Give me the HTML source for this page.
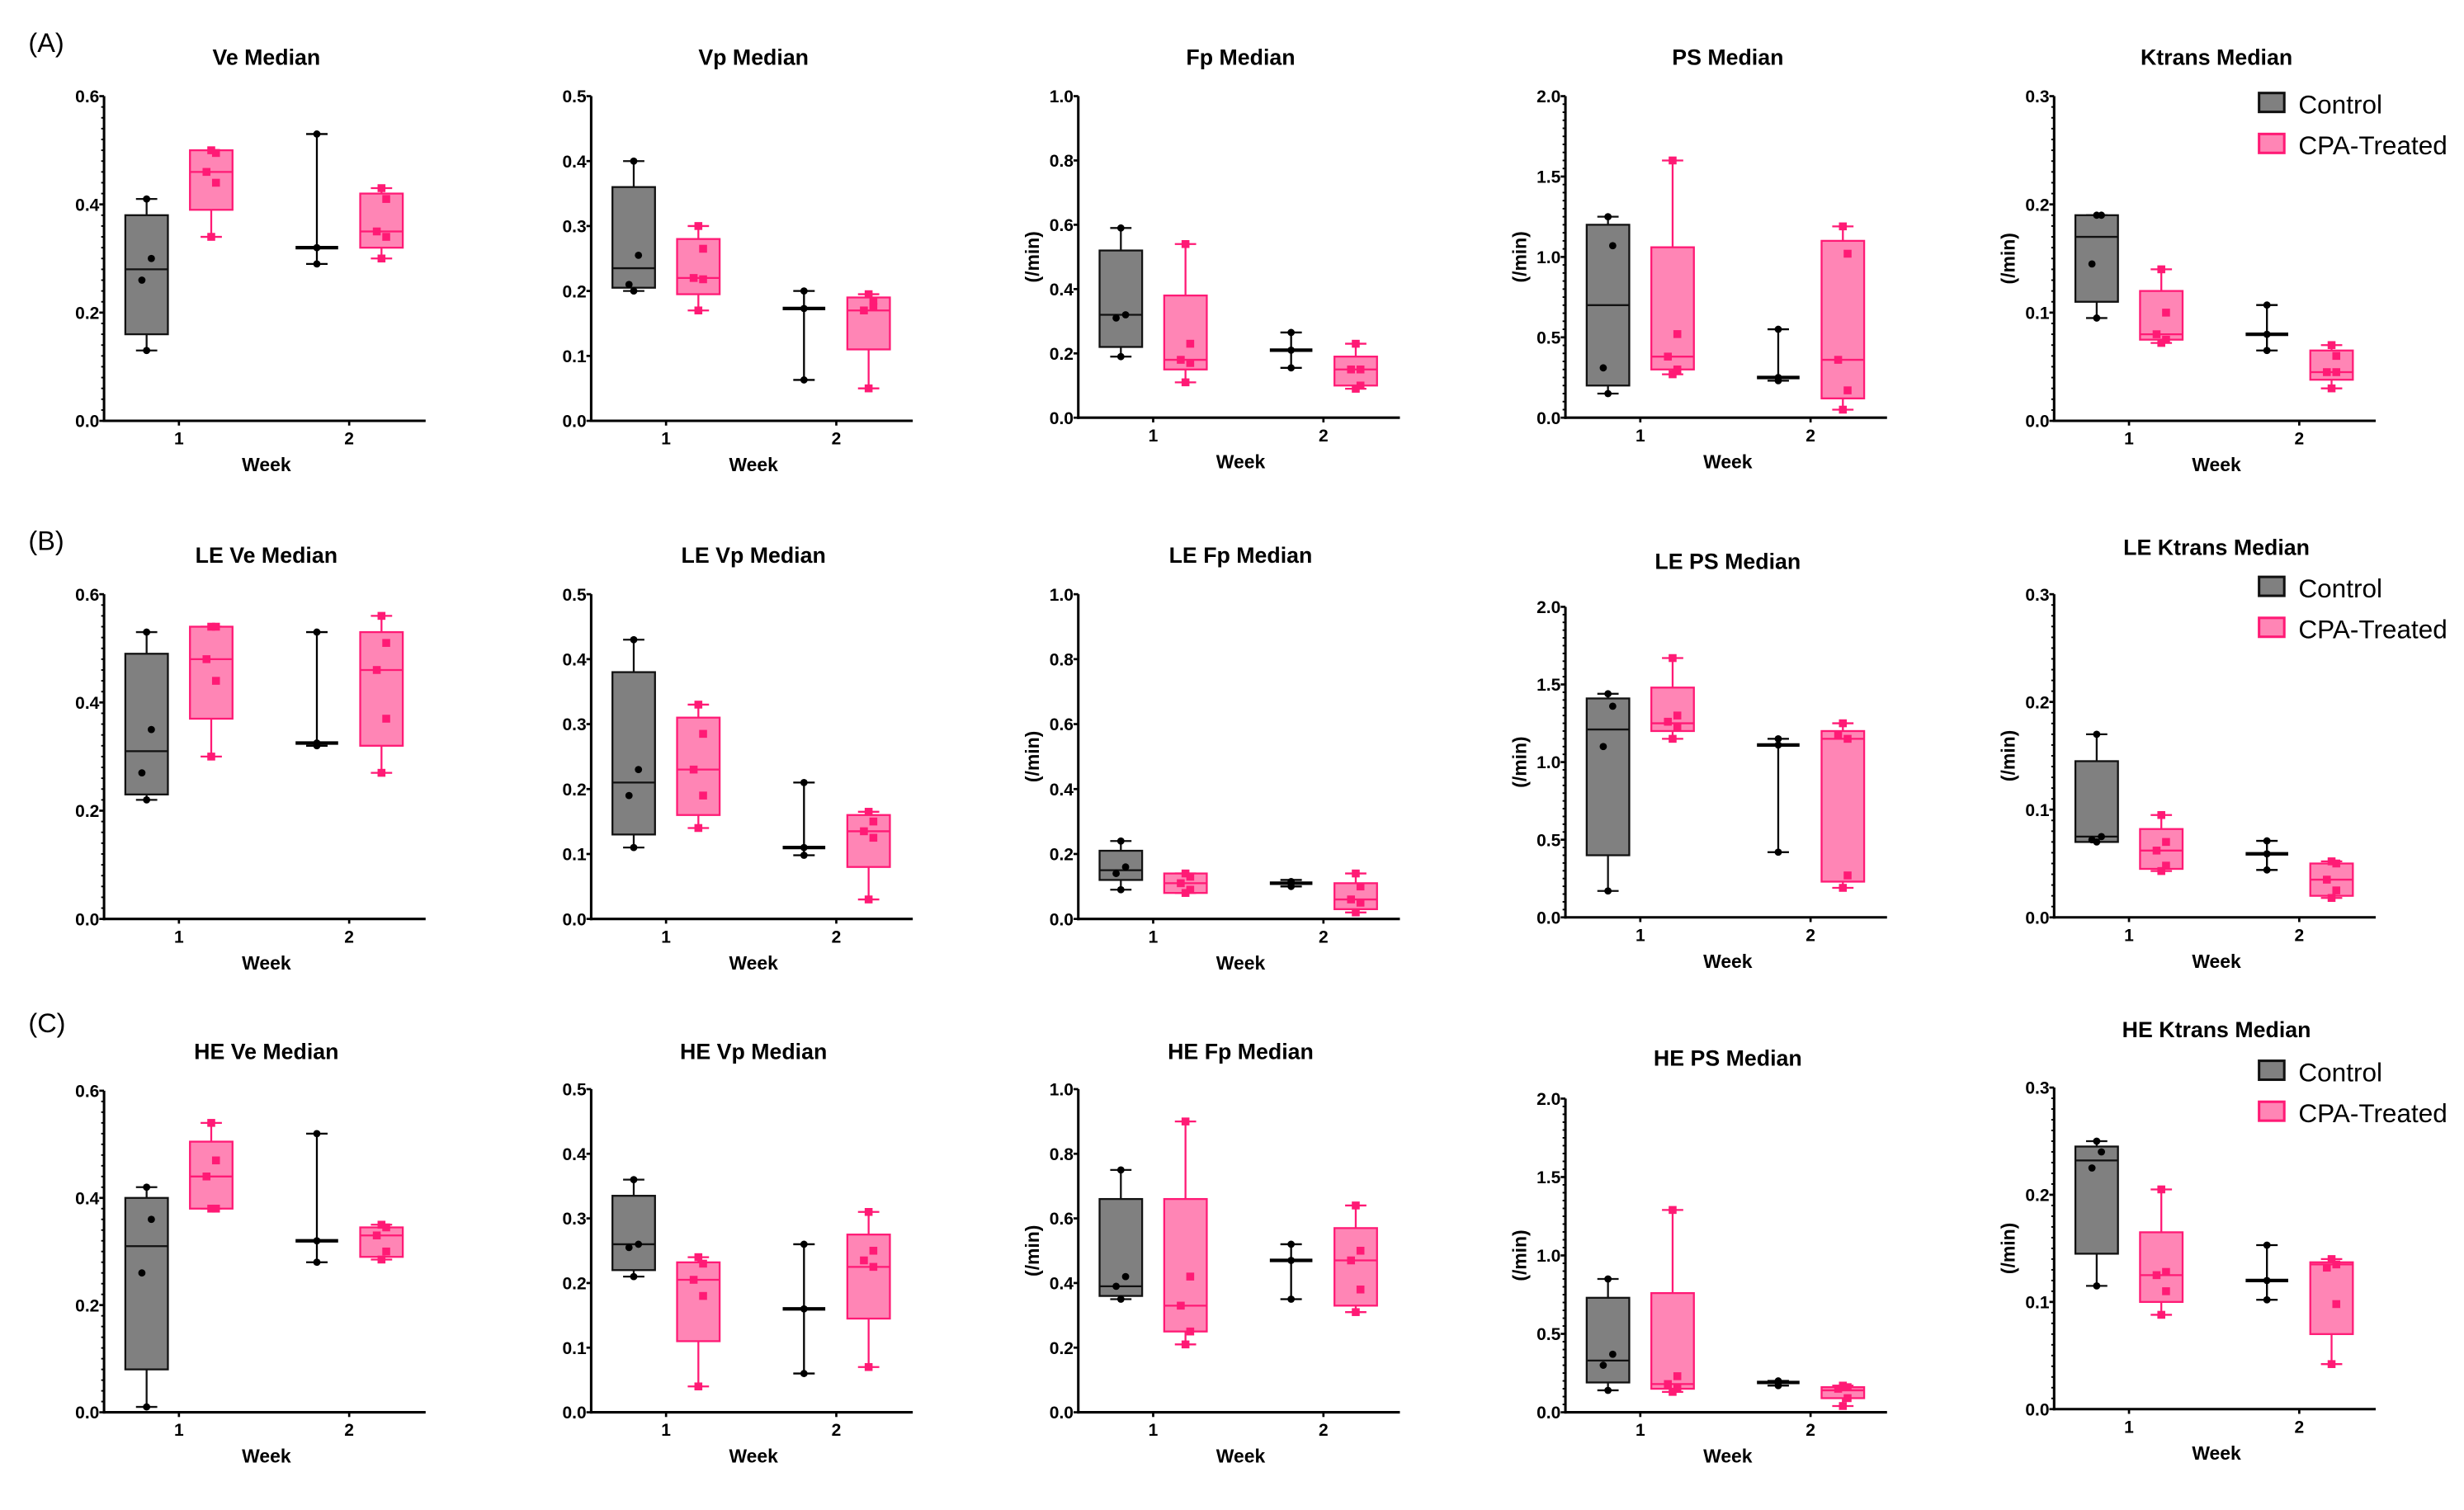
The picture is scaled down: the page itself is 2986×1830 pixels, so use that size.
<!DOCTYPE html>
<html><head><meta charset="utf-8">
<style>
html,body{margin:0;padding:0;background:#fff;}
svg{display:block;}
text{font-family:"Liberation Sans",Arial,sans-serif;}
</style></head>
<body>
<svg id="fig" width="2986" height="1830" viewBox="0 0 1563 958" preserveAspectRatio="none" xmlns="http://www.w3.org/2000/svg"></svg>
<script>
// ---- data arrays (one entry per panel, row-major: A row, B row, C row) ----
const panelTitles = ["Ve Median","Vp Median","Fp Median","PS Median","Ktrans Median",
 "LE Ve Median","LE Vp Median","LE Fp Median","LE PS Median","LE Ktrans Median",
 "HE Ve Median","HE Vp Median","HE Fp Median","HE PS Median","HE Ktrans Median"];
const yMaxes = [0.6,0.5,1.0,2.0,0.3, 0.6,0.5,1.0,2.0,0.3, 0.6,0.5,1.0,2.0,0.3];
const yTickSteps = [0.2,0.1,0.2,0.5,0.1, 0.2,0.1,0.2,0.5,0.1, 0.2,0.1,0.2,0.5,0.1];
const yTickDecimals = [1,1,1,1,1, 1,1,1,1,1, 1,1,1,1,1];
const hasUnitLabel = [0,0,1,1,1, 0,0,1,1,1, 0,0,1,1,1];
const weekLabels = ["1","2"];
// box stats: [min, q1, median, q3, max]
const ctrlWeek1 = [
 [0.13,0.16,0.28,0.38,0.41],[0.20,0.205,0.235,0.36,0.40],[0.19,0.22,0.32,0.52,0.59],[0.15,0.2,0.7,1.2,1.25],[0.095,0.11,0.17,0.19,0.19],
 [0.22,0.23,0.31,0.49,0.53],[0.11,0.13,0.21,0.38,0.43],[0.09,0.12,0.15,0.21,0.24],[0.17,0.4,1.21,1.41,1.44],[0.07,0.07,0.075,0.145,0.17],
 [0.01,0.08,0.31,0.40,0.42],[0.21,0.22,0.26,0.335,0.36],[0.35,0.36,0.39,0.66,0.75],[0.14,0.19,0.33,0.73,0.85],[0.115,0.145,0.232,0.245,0.25]];
const ptrlPts1 = null;
const ctrlPoints1 = [
 [0.41,0.30,0.26,0.13],[0.40,0.255,0.21,0.20],[0.59,0.32,0.31,0.19],[1.25,1.07,0.31,0.15],[0.19,0.19,0.145,0.095],
 [0.53,0.35,0.27,0.22],[0.43,0.23,0.19,0.11],[0.24,0.16,0.14,0.09],[1.44,1.36,1.1,0.17],[0.17,0.075,0.072,0.07],
 [0.42,0.36,0.26,0.01],[0.36,0.26,0.255,0.21],[0.75,0.42,0.39,0.35],[0.85,0.37,0.30,0.14],[0.25,0.24,0.225,0.115]];
const ctrlWeek2 = [ // [min, median, max]
 [0.29,0.32,0.53],[0.063,0.173,0.20],[0.155,0.21,0.265],[0.23,0.25,0.55],[0.065,0.08,0.107],
 [0.32,0.325,0.53],[0.098,0.11,0.21],[0.10,0.11,0.12],[0.42,1.11,1.15],[0.044,0.059,0.071],
 [0.28,0.32,0.52],[0.06,0.16,0.26],[0.35,0.47,0.52],[0.17,0.19,0.20],[0.102,0.12,0.153]];
const ctrlPoints2 = [
 [0.53,0.32,0.29],[0.20,0.173,0.063],[0.265,0.21,0.155],[0.55,0.25,0.23],[0.107,0.08,0.065],
 [0.53,0.325,0.32],[0.21,0.11,0.098],[0.115,0.11,0.10],[1.15,1.11,0.42],[0.071,0.059,0.044],
 [0.52,0.32,0.28],[0.26,0.16,0.06],[0.52,0.47,0.35],[0.20,0.19,0.17],[0.153,0.12,0.102]];
const cpaWeek1 = [
 [0.34,0.39,0.46,0.50,0.50],[0.17,0.195,0.22,0.28,0.30],[0.11,0.15,0.18,0.38,0.54],[0.27,0.3,0.38,1.06,1.6],[0.072,0.075,0.08,0.12,0.14],
 [0.30,0.37,0.48,0.54,0.54],[0.14,0.16,0.23,0.31,0.33],[0.08,0.08,0.11,0.14,0.14],[1.15,1.2,1.25,1.48,1.67],[0.043,0.045,0.062,0.082,0.095],
 [0.38,0.38,0.44,0.505,0.54],[0.04,0.11,0.205,0.232,0.24],[0.21,0.25,0.33,0.66,0.90],[0.13,0.15,0.18,0.76,1.29],[0.088,0.10,0.125,0.165,0.205]];
const cpaPoints1 = [
 [0.50,0.495,0.46,0.44,0.34],[0.30,0.265,0.22,0.218,0.17],[0.54,0.23,0.18,0.17,0.11],[1.6,0.52,0.38,0.30,0.27],[0.14,0.10,0.08,0.075,0.072],
 [0.54,0.54,0.48,0.44,0.30],[0.33,0.285,0.23,0.19,0.14],[0.14,0.13,0.11,0.09,0.08],[1.67,1.3,1.26,1.23,1.15],[0.095,0.07,0.062,0.048,0.043],
 [0.54,0.47,0.44,0.38,0.38],[0.24,0.23,0.205,0.18,0.04],[0.90,0.42,0.33,0.25,0.21],[1.29,0.23,0.18,0.15,0.13],[0.205,0.128,0.125,0.11,0.088]];
const cpaWeek2 = [
 [0.30,0.32,0.35,0.42,0.43],[0.05,0.11,0.17,0.19,0.195],[0.09,0.10,0.15,0.19,0.23],[0.05,0.12,0.36,1.1,1.19],[0.03,0.038,0.045,0.065,0.07],
 [0.27,0.32,0.46,0.53,0.56],[0.03,0.08,0.135,0.16,0.165],[0.02,0.03,0.06,0.11,0.14],[0.19,0.23,1.15,1.2,1.25],[0.018,0.02,0.035,0.05,0.052],
 [0.285,0.29,0.33,0.345,0.35],[0.07,0.145,0.225,0.275,0.31],[0.31,0.33,0.47,0.57,0.64],[0.04,0.09,0.14,0.16,0.17],[0.042,0.07,0.135,0.137,0.14]];
const cpaPoints2 = [
 [0.43,0.41,0.35,0.34,0.30],[0.195,0.185,0.17,0.175,0.05],[0.23,0.15,0.15,0.10,0.09],[1.19,1.02,0.36,0.17,0.05],[0.07,0.06,0.045,0.045,0.03],
 [0.56,0.51,0.46,0.37,0.27],[0.165,0.15,0.135,0.125,0.03],[0.14,0.10,0.06,0.05,0.02],[1.25,1.15,1.17,0.27,0.19],[0.052,0.05,0.035,0.025,0.018],
 [0.35,0.345,0.33,0.30,0.285],[0.31,0.25,0.235,0.225,0.07],[0.64,0.50,0.47,0.38,0.31],[0.17,0.16,0.15,0.09,0.04],[0.14,0.135,0.132,0.098,0.042]];
const rowLabels = ["(A)","(B)","(C)"];
const seriesNames = ["Control","CPA-Treated"];

// ---- layout (not data) ----
const colAxisX = [66,375,684,993,1303];
const panelTop = [61,61,61,61,61, 377,377,377,385,377, 692,691,691,697,690];
const panelBottom = [267,267,265,265,267, 583,583,583,582,582, 896,896,896,896,894];
const titleY = [41,41,41,41,41, 357,357,357,361,352, 672,672,672,676,658];
const rowLabelY = [27,343,649];
const legendY = [[66,92],[373,399],[680,706]];
const minorCount = [10,0,0,10,10, 10,0,0,10,10, 10,0,0,10,10];
const PINK_FILL = "#ff85b5", PINK = "#ff1a75";

const svg = document.getElementById('fig');
const NS = "http://www.w3.org/2000/svg";
function mk(tag, attrs, parent){
  const e = document.createElementNS(NS, tag);
  for (const k in attrs) e.setAttribute(k, attrs[k]);
  (parent||svg).appendChild(e); return e;
}

for (let r=0;r<3;r++){
  const t = mk('text',{x:18,y:rowLabelY[r]+6,'font-size':17});
  
  
  t.textContent = rowLabels[r];
  // legend
  for (let s=0;s<2;s++){
    const ly = legendY[r][s];
    const rect = mk('rect',{x:1433,y:ly-7,width:16,height:12,fill:s?PINK_FILL:'#808080',stroke:s?PINK:'#111','stroke-width':1.6});
    
    
    const lt = mk('text',{x:1458,y:ly+6,'font-size':16.5});
    
    
    lt.textContent = seriesNames[s];
  }
}

for (let p=0;p<15;p++){
  const col = p%5;
  const ax = colAxisX[col], top = panelTop[p], bot = panelBottom[p];
  const ymax = yMaxes[p];
  const g = mk('g',{});
  
  
  const yS = v => bot - (v/ymax)*(bot-top);
  const xS = w => ax + 47.5 + w*108;   // week index 0/1
  const axEnd = ax + 204;
  // title
  const tt = mk('text',{x:ax+103,y:titleY[p],'font-size':14,'font-weight':'bold','text-anchor':'middle'},g);
  
  
  tt.textContent = panelTitles[p];
  // axes
  const ya = mk('line',{x1:ax,y1:top,x2:ax,y2:bot+0.8,stroke:'#000','stroke-width':1.6},g);
  
  
  const xa = mk('line',{x1:ax-0.8,y1:bot,x2:axEnd,y2:bot,stroke:'#000','stroke-width':1.6},g);
  
  
  const step = yTickSteps[p];
  const nT = Math.round(ymax/step);
  for (let i=0;i<=nT;i++){
    const v = i*step, y = yS(v);
    mk('line',{x1:ax-3,y1:y,x2:ax,y2:y,stroke:'#000','stroke-width':1.4},g);
    const tl = mk('text',{x:ax-3,y:y+4,'font-size':11,'font-weight':'bold','text-anchor':'end'},g);
    
    
    tl.textContent = v.toFixed(yTickDecimals[p]);
    if (minorCount[p] && i<nT){
      for (let m=1;m<minorCount[p];m++){
        const my = yS(v + m*step/minorCount[p]);
        mk('line',{x1:ax-1.8,y1:my,x2:ax,y2:my,stroke:'#000','stroke-width':1},g);
      }
    }
  }
  for (let w=0;w<2;w++){
    const x = xS(w);
    mk('line',{x1:x,y1:bot,x2:x,y2:bot+3,stroke:'#000','stroke-width':1.4},g);
    const xl = mk('text',{x:x,y:bot+15,'font-size':11,'font-weight':'bold','text-anchor':'middle'},g);
    
    
    xl.textContent = weekLabels[w];
  }
  const wk = mk('text',{x:ax+103,y:bot+32,'font-size':12,'font-weight':'bold','text-anchor':'middle'},g);
  
  
  wk.textContent = 'Week';
  if (hasUnitLabel[p]){
    const cy = (top+bot)/2;
    const ul = mk('text',{x:ax-25,y:cy,'font-size':12,'font-weight':'bold','text-anchor':'middle',transform:`rotate(-90 ${ax-25} ${cy})`},g);
    
    
    ul.textContent = '(/min)';
  }
  // boxes
  function box(stats, cx, fill, stroke, name){
    const [mn,q1,md,q3,mx] = stats;
    const bw = 27, cap = 13.5;
    const bg = mk('g',{},g);
    
    
    mk('line',{x1:cx,y1:yS(mx),x2:cx,y2:yS(q3),stroke:stroke,'stroke-width':1.2},bg);
    mk('line',{x1:cx,y1:yS(q1),x2:cx,y2:yS(mn),stroke:stroke,'stroke-width':1.2},bg);
    mk('line',{x1:cx-cap/2,y1:yS(mx),x2:cx+cap/2,y2:yS(mx),stroke:stroke,'stroke-width':1.2},bg);
    mk('line',{x1:cx-cap/2,y1:yS(mn),x2:cx+cap/2,y2:yS(mn),stroke:stroke,'stroke-width':1.2},bg);
    mk('rect',{x:cx-bw/2,y:yS(q3),width:bw,height:Math.max(0,yS(q1)-yS(q3)),fill:fill,stroke:stroke,'stroke-width':1.2},bg);
    mk('line',{x1:cx-bw/2,y1:yS(md),x2:cx+bw/2,y2:yS(md),stroke:stroke,'stroke-width':1.2},bg);
  }
  function ctrlW2(stats, cx){
    const [mn,md,mx] = stats;
    const bg = mk('g',{},g);
    
    
    mk('line',{x1:cx,y1:yS(mx),x2:cx,y2:yS(mn),stroke:'#000','stroke-width':1.2},bg);
    mk('line',{x1:cx-6.8,y1:yS(mx),x2:cx+6.8,y2:yS(mx),stroke:'#000','stroke-width':1.2},bg);
    mk('line',{x1:cx-6.8,y1:yS(mn),x2:cx+6.8,y2:yS(mn),stroke:'#000','stroke-width':1.2},bg);
    mk('line',{x1:cx-13.5,y1:yS(md),x2:cx+13.5,y2:yS(md),stroke:'#000','stroke-width':2.2},bg);
  }
  function pts(vals, cx, pink){
    vals.forEach((v,i)=>{
      const dx = (vals.length>3 ? ((i%2)?3:-3)*(i>0&&i<vals.length-1?1:0) : 0);
      let e;
      if (pink){ e = mk('rect',{x:cx+dx-2.5,y:yS(v)-2.5,width:5,height:5,fill:PINK},g); }
      else { e = mk('circle',{cx:cx+dx,cy:yS(v),r:2.3,fill:'#000'},g); }
      
      
    });
  }
  const c1 = xS(0)-20.5, p1 = xS(0)+20.5, c2 = xS(1)-20.5, p2 = xS(1)+20.5;
  box(ctrlWeek1[p], c1, '#808080', '#111', 'box-control-week1');
  box(cpaWeek1[p], p1, PINK_FILL, PINK, 'box-cpa-week1');
  ctrlW2(ctrlWeek2[p], c2);
  box(cpaWeek2[p], p2, PINK_FILL, PINK, 'box-cpa-week2');
  pts(ctrlPoints1[p], c1, false);
  pts(cpaPoints1[p], p1, true);
  pts(ctrlPoints2[p], c2, false);
  pts(cpaPoints2[p], p2, true);
}
</script>
</body></html>
